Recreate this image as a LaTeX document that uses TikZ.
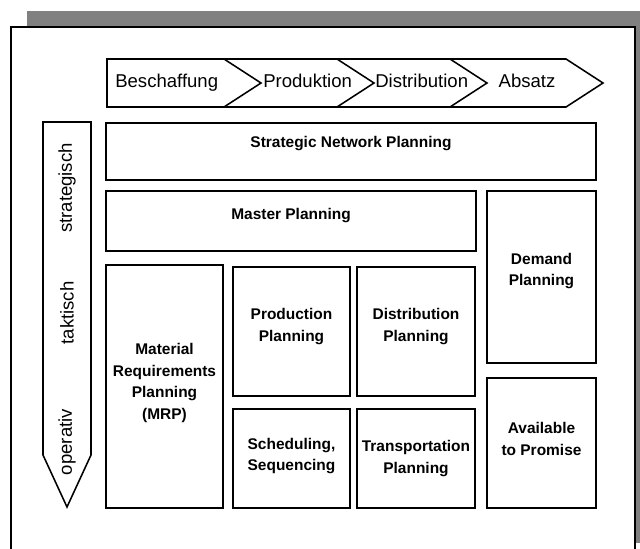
\documentclass[tikz,border=0pt]{standalone}
\usepackage{fontspec}
\setmainfont{Liberation Sans}
\usetikzlibrary{positioning}
\definecolor{shadowgray}{HTML}{808080}

\begin{document}
\begin{tikzpicture}[
  x=0.025cm, y=-0.025cm,
  every node/.style={font=\fontsize{11}{15.5}\selectfont\bfseries, align=center},
  box/.style={rectangle, draw, line width=1.4pt, fill=white, inner sep=0pt},
  flow/.style={draw, line width=1.1pt, fill=white, line join=miter},
  phase/.style={font=\fontsize{13.2}{15}\selectfont, inner sep=0pt},
]
\useasboundingbox (0,0) rectangle (640,548);

% Shadow and frame
\fill[shadowgray] (27,11) rectangle (652,543);
\draw[line width=1.6pt, fill=white] (11,27) rectangle (635,580);

% Value chain
\draw[flow] (107,59) -- (566,59) -- (603,83) -- (566,107) -- (107,107) -- cycle;
\draw[flow] (224,59) -- (261,83) -- (224,107);
\draw[flow] (337,59) -- (374,83) -- (337,107);
\draw[flow] (450,59) -- (487,83) -- (450,107);
\node[phase, anchor=base west] (besch) at (115,87) {Beschaffung};
\node[phase, anchor=base west] (prodk) at (263,87) {Produktion};
\node[phase, anchor=base west] (distr) at (375,87) {Distribution};
\node[phase, anchor=base] (absatz) at (527,87) {Absatz};

% Planning horizon
\draw[flow] (43,122) -- (91,122) -- (91,455) -- (67,507) -- (43,455) -- cycle;
\node[phase, rotate=90] (strat) at (67,188) {strategisch};
\node[phase, rotate=90] (takt) at (67,313) {taktisch};
\node[phase, rotate=90] (oper) at (67,442) {operativ};

% Planning modules
\node[box, minimum width=12.25cm, minimum height=1.425cm] (snp) at (351,151.5) {};
\node[box, minimum width=9.25cm, minimum height=1.5cm] (mp) at (291,221) {};
\node[box, minimum width=2.725cm, minimum height=4.3cm] (dp) at (541.5,277) {};
\node[box, minimum width=2.925cm, minimum height=6.075cm] (mrp) at (164.5,386.5) {};
\node[box, minimum width=2.925cm, minimum height=3.225cm] (pp) at (291.5,331.5) {};
\node[box, minimum width=2.95cm, minimum height=3.225cm] (dist) at (416,331.5) {};
\node[box, minimum width=2.925cm, minimum height=2.475cm] (sched) at (291.5,458.5) {};
\node[box, minimum width=2.95cm, minimum height=2.475cm] (tp) at (416,458.5) {};
\node[box, minimum width=2.725cm, minimum height=3.25cm] (atp) at (541.5,443) {};

% Module labels
\node (snptxt) at (351,144) {Strategic Network Planning};
\node (mptxt) at (291,216) {Master Planning};
\node (dptxt) at ([yshift=4.3pt]dp.center) {Demand\\Planning};
\node (mrptxt) at ([yshift=2.5pt]mrp.center) {Material\\Requirements\\Planning\\(MRP)};
\node (pptxt) at ([yshift=3.5pt]pp.center) {Production\\Planning};
\node (disttxt) at ([yshift=3.5pt]dist.center) {Distribution\\Planning};
\node (schedtxt) at ([yshift=1.8pt]sched.center) {Scheduling,\\Sequencing};
\node (tptxt) at (tp.center) {Transportation\\Planning};
\node (atptxt) at ([yshift=2.8pt]atp.center) {Available\\to Promise};

\end{tikzpicture}
\end{document}
